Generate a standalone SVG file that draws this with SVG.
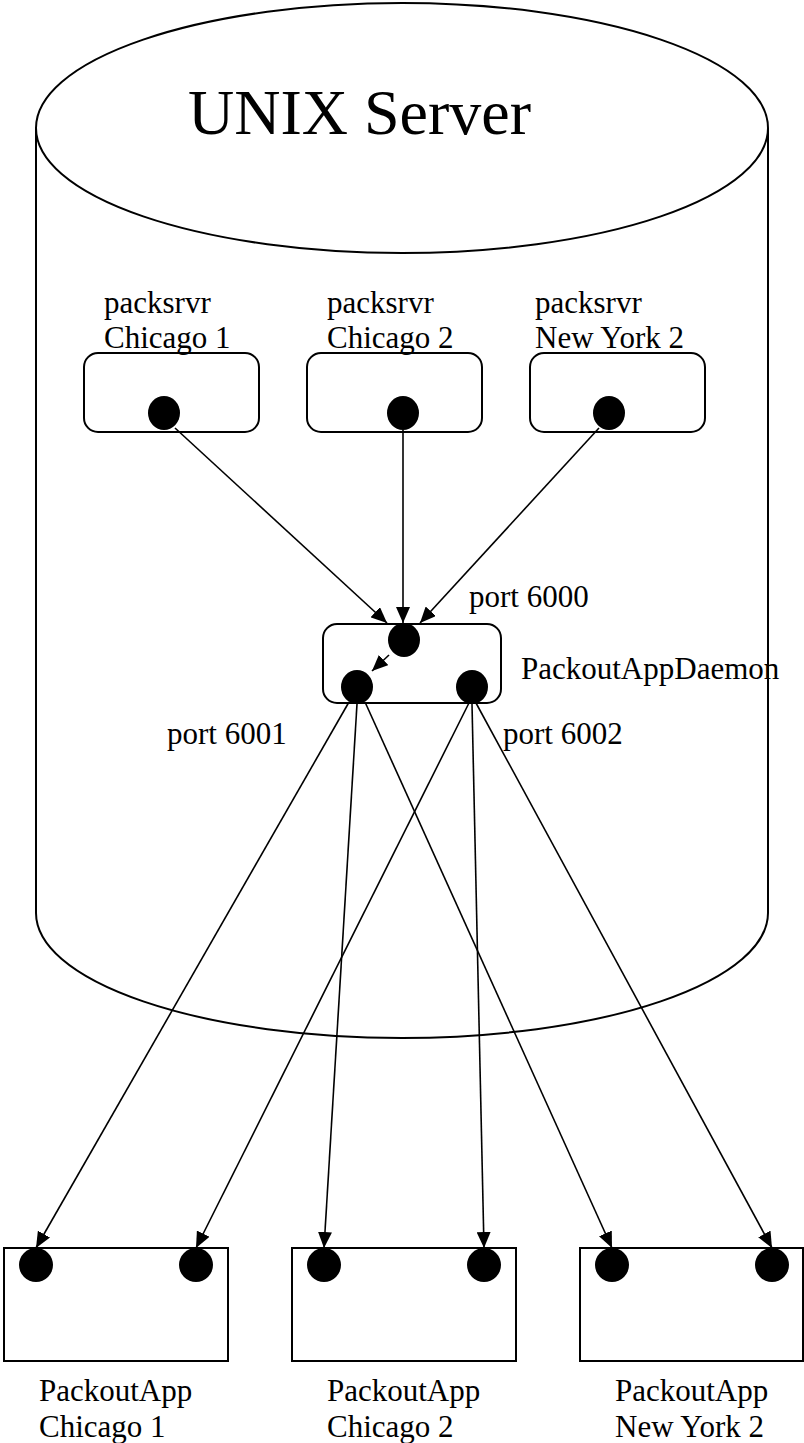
<svg xmlns="http://www.w3.org/2000/svg" width="804" height="1443" viewBox="0 0 804 1443">
<style>
.ln{stroke:#000;stroke-width:2;fill:none}
.box{stroke:#000;stroke-width:2;fill:#fff}
.dot{fill:#000}
.t{font-family:"Liberation Serif","Times New Roman",serif;font-size:31px;fill:#000}
.big{font-family:"Liberation Serif","Times New Roman",serif;font-size:64px;fill:#000}
.c{stroke:#000;stroke-width:1.6;fill:none;marker-end:url(#ah)}
</style>
<defs>
<marker id="ah" markerUnits="userSpaceOnUse" markerWidth="16" markerHeight="14" refX="16" refY="7" orient="auto">
<path d="M0,0 L16,7 L0,14 Z" fill="#000"/>
</marker>
</defs>
<g id="server">
<path class="ln" d="M36,128 L36,913 A366,125 0 0 0 768,913 L768,128"/>
<ellipse class="ln" cx="402" cy="128" rx="366" ry="125"/>
<text class="big" x="188" y="134">UNIX Server</text>
</g>
<g id="packsrvr1">
<rect class="box" x="84" y="353" width="175" height="79" rx="14"/>
<ellipse class="dot" cx="164" cy="413" rx="16" ry="17"/>
<text class="t" x="104" y="313">packsrvr</text>
<text class="t" x="104" y="348">Chicago 1</text>
</g>
<g id="packsrvr2">
<rect class="box" x="307" y="353" width="175" height="79" rx="14"/>
<ellipse class="dot" cx="403" cy="413" rx="16" ry="17"/>
<text class="t" x="327" y="313">packsrvr</text>
<text class="t" x="327" y="348">Chicago 2</text>
</g>
<g id="packsrvr3">
<rect class="box" x="530" y="353" width="175" height="79" rx="14"/>
<ellipse class="dot" cx="609" cy="413" rx="16" ry="17"/>
<text class="t" x="535" y="313">packsrvr</text>
<text class="t" x="535" y="348">New York 2</text>
</g>
<g id="daemon">
<rect class="box" x="323" y="624" width="178" height="79" rx="14"/>
<ellipse class="dot" cx="404" cy="640" rx="16" ry="17"/>
<ellipse class="dot" cx="357" cy="687" rx="16" ry="17"/>
<ellipse class="dot" cx="472" cy="687" rx="16" ry="17"/>
<text class="t" x="469" y="607">port 6000</text>
<text class="t" x="521" y="679">PackoutAppDaemon</text>
<text class="t" x="167" y="744">port 6001</text>
<text class="t" x="503" y="744">port 6002</text>
</g>
<g id="app1">
<rect class="box" x="4" y="1248" width="224" height="113"/>
<circle class="dot" cx="36" cy="1265" r="17"/>
<circle class="dot" cx="196" cy="1265" r="17"/>
<text class="t" x="39" y="1401">PackoutApp</text>
<text class="t" x="39" y="1437">Chicago 1</text>
</g>
<g id="app2">
<rect class="box" x="292" y="1248" width="224" height="113"/>
<circle class="dot" cx="324" cy="1265" r="17"/>
<circle class="dot" cx="484" cy="1265" r="17"/>
<text class="t" x="327" y="1401">PackoutApp</text>
<text class="t" x="327" y="1437">Chicago 2</text>
</g>
<g id="app3">
<rect class="box" x="580" y="1248" width="223" height="113"/>
<circle class="dot" cx="612" cy="1265" r="17"/>
<circle class="dot" cx="772" cy="1265" r="17"/>
<text class="t" x="615" y="1401">PackoutApp</text>
<text class="t" x="615" y="1437">New York 2</text>
</g>
<g id="connectors">
<line class="c" x1="175" y1="428" x2="387" y2="623"/>
<line class="c" x1="403" y1="430" x2="403" y2="623"/>
<line class="c" x1="599" y1="428" x2="420" y2="623"/>
<line class="c" x1="389" y1="655" x2="372" y2="671"/>
<line class="c" x1="349" y1="702" x2="36" y2="1248"/>
<line class="c" x1="357" y1="704" x2="324" y2="1248"/>
<line class="c" x1="365" y1="702" x2="612" y2="1248"/>
<line class="c" x1="469" y1="703" x2="196" y2="1248"/>
<line class="c" x1="472" y1="704" x2="484" y2="1248"/>
<line class="c" x1="476" y1="703" x2="772" y2="1248"/>
</g>
</svg>
